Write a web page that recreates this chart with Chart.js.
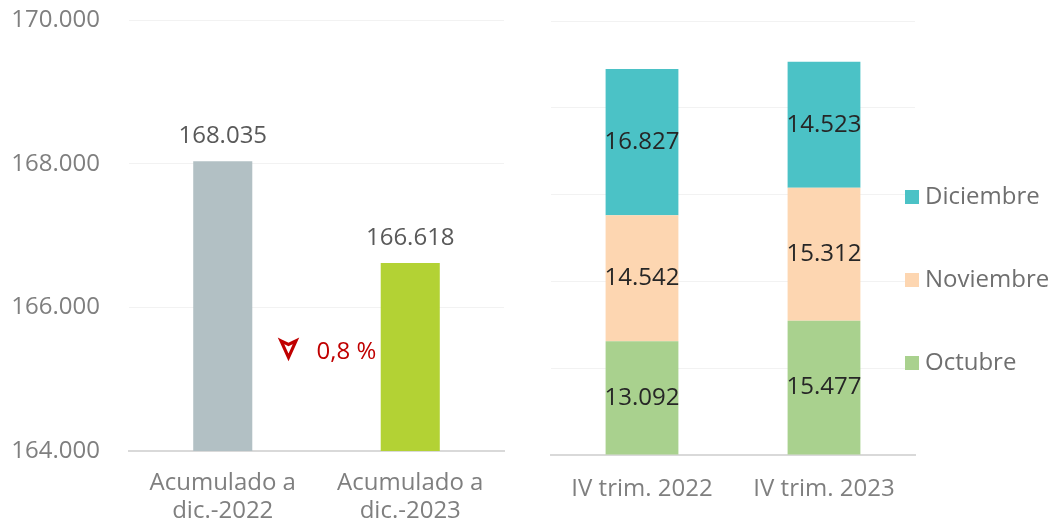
<!DOCTYPE html>
<html lang="es">
<head>
    <meta charset="UTF-8">
    <title>Acumulado y IV trimestre</title>
    <script src="https://cdn.jsdelivr.net/npm/chart.js"></script>
    <style>
        body { margin: 0; background: #ffffff; }
        #leftBox { position: absolute; left: 0; top: 0; width: 540px; height: 523px; }
        #rightBox { position: absolute; left: 540px; top: 0; width: 524px; height: 523px; }
    </style>
</head>
<body>
    <div id="leftBox"><canvas id="accChart"></canvas></div>
    <div id="rightBox"><canvas id="quarterChart"></canvas></div>

    <script>
        // left chart: accumulated totals
        const accLabels = [["Acumulado a", "dic.-2022"], ["Acumulado a", "dic.-2023"]];
        const accValues = [168035, 166618];
        const accColors = ["#b2c0c4", "#b3d234"];
        const accMin = 164000, accMax = 170000, accStep = 2000;
        const changeText = "0,8 %";

        // right chart: IV quarter by month
        const quarterLabels = ["IV trim. 2022", "IV trim. 2023"];
        const octubre = [13092, 15477];
        const noviembre = [14542, 15312];
        const diciembre = [16827, 14523];
        const monthNames = ["Octubre", "Noviembre", "Diciembre"];
        const monthColors = ["#a9d18e", "#fdd6b1", "#4bc2c6"];

        const FONT = "'Open Sans', sans-serif";
        const SIZE = 24;

        function fmt(v) {
            return String(v).replace(/\B(?=(\d{3})+(?!\d))/g, ".");
        }

        const accLabelPlugin = {
            id: 'accLabels',
            afterDatasetsDraw(chart) {
                let ctx = chart.ctx;
                let meta = chart.getDatasetMeta(0);
                ctx.save();
                ctx.font = SIZE + "px " + FONT;
                ctx.fillStyle = "#595959";
                ctx.textAlign = "center";
                ctx.textBaseline = "middle";
                meta.data.forEach((bar, i) => {
                    ctx.fillText(fmt(accValues[i]), bar.x, bar.y - 25);
                });

                // change marker between the two bars
                let xs = chart.scales.x;
                let mid = (xs.getPixelForValue(0) + xs.getPixelForValue(1)) / 2;
                let y = chart.scales.y.getPixelForValue(165380);
                let cx = mid - 28;
                ctx.strokeStyle = "#c00000";
                ctx.lineWidth = 3.2;
                ctx.lineJoin = "miter";
                ctx.beginPath();
                ctx.moveTo(cx - 7.5, y - 11);
                ctx.lineTo(cx, y - 7.5);
                ctx.lineTo(cx + 7.5, y - 11);
                ctx.lineTo(cx, y + 5.5);
                ctx.closePath();
                ctx.stroke();
                ctx.fillStyle = "#c00000";
                ctx.textAlign = "left";
                ctx.fillText(changeText, mid, y);
                ctx.restore();
            }
        };

        const stackLabelPlugin = {
            id: 'stackLabels',
            afterDatasetsDraw(chart) {
                let ctx = chart.ctx;
                ctx.save();
                ctx.font = SIZE + "px " + FONT;
                ctx.fillStyle = "#262626";
                ctx.textAlign = "center";
                ctx.textBaseline = "middle";
                chart.data.datasets.forEach((ds, d) => {
                    chart.getDatasetMeta(d).data.forEach((bar, i) => {
                        ctx.fillText(fmt(ds.data[i]), bar.x, (bar.y + bar.base) / 2);
                    });
                });

                // legend, top item is the top of the stack
                let area = chart.chartArea;
                let lx = area.right - 10;
                let ly = area.top + 176;
                ctx.textAlign = "left";
                for (let k = 0; k < 3; k++) {
                    let d = 2 - k;
                    let yy = ly + k * 83;
                    ctx.fillStyle = monthColors[d];
                    ctx.fillRect(lx, yy - 7, 14, 14);
                    ctx.fillStyle = "#6f6f6f";
                    ctx.fillText(monthNames[d], lx + 20, yy);
                }
                ctx.restore();
            }
        };

        new Chart(document.getElementById('accChart'), {
            type: 'bar',
            data: {
                labels: accLabels,
                datasets: [{
                    data: accValues,
                    backgroundColor: accColors,
                    barPercentage: 0.315,
                    categoryPercentage: 1
                }]
            },
            options: {
                responsive: true,
                maintainAspectRatio: false,
                animation: false,
                layout: { padding: { top: 20, right: 36, left: 0, bottom: 0 } },
                plugins: { legend: { display: false }, tooltip: { enabled: false } },
                scales: {
                    y: {
                        min: accMin,
                        max: accMax,
                        ticks: {
                            stepSize: accStep,
                            callback: v => fmt(v),
                            color: "#7f7f7f",
                            font: { family: FONT, size: SIZE },
                            padding: 29
                        },
                        grid: { color: "#f2f2f2", drawTicks: false },
                        border: { display: false },
                        afterFit: s => {
                            s.width = 129;
                            s.paddingTop = 0;
                            s.paddingBottom = 0;
                        }
                    },
                    x: {
                        grid: { display: false },
                        border: { color: "#d9d9d9", width: 2 },
                        ticks: {
                            color: "#7f7f7f",
                            font: { family: FONT, size: SIZE, lineHeight: 1.17 },
                            padding: 10
                        },
                        afterFit: s => { s.height = 72; }
                    }
                }
            },
            plugins: [accLabelPlugin]
        });

        new Chart(document.getElementById('quarterChart'), {
            type: 'bar',
            data: {
                labels: quarterLabels,
                datasets: [octubre, noviembre, diciembre].map((vals, d) => ({
                    label: monthNames[d],
                    data: vals,
                    backgroundColor: monthColors[d],
                    barPercentage: 0.4,
                    categoryPercentage: 1
                }))
            },
            options: {
                responsive: true,
                maintainAspectRatio: false,
                animation: false,
                layout: { padding: { top: 21, right: 149, left: 11, bottom: 0 } },
                plugins: { legend: { display: false }, tooltip: { enabled: false } },
                scales: {
                    y: {
                        stacked: true,
                        min: 0,
                        max: 50000,
                        ticks: { display: false, stepSize: 10000 },
                        grid: { color: "#f2f2f2", drawTicks: false },
                        border: { display: false },
                        afterFit: s => { s.width = 0; }
                    },
                    x: {
                        stacked: true,
                        grid: { display: false },
                        border: { color: "#d9d9d9", width: 2 },
                        ticks: {
                            color: "#7f7f7f",
                            font: { family: FONT, size: SIZE },
                            padding: 12
                        },
                        afterFit: s => { s.height = 68; }
                    }
                }
            },
            plugins: [stackLabelPlugin]
        });
    </script>
</body>
</html>
